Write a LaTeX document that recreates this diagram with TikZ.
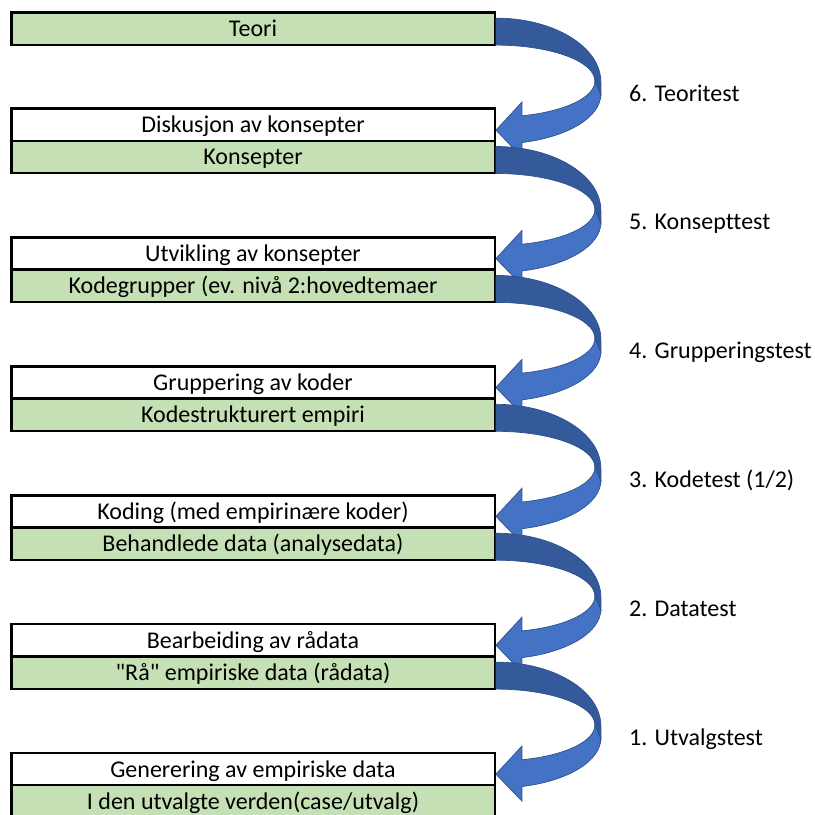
\documentclass[tikz,border=0pt]{standalone}
\usepackage{fontspec}
\setmainfont{Carlito}[Ligatures=NoCommon]
\definecolor{boxgreen}{RGB}{197,224,180}
\definecolor{arrowlight}{RGB}{68,114,196}
\definecolor{arrowdark}{RGB}{52,90,156}
\definecolor{arrowedge}{RGB}{47,82,143}
\tikzset{
  stepbox/.style={draw=black, line width=2.4pt, minimum width=483.4pt, minimum height=32.4pt, inner sep=0pt, text height=19pt, text depth=3pt, font=\fontsize{24}{28}\selectfont},
  greenbox/.style={stepbox, fill=boxgreen},
  whitebox/.style={stepbox, fill=white},
  testlabel/.style={anchor=base west, inner sep=0pt, font=\fontsize{24}{28}\selectfont},
  frontband/.style={fill=arrowlight, draw=arrowedge, line width=0.7pt},
  backband/.style={fill=arrowdark, draw=arrowedge, line width=0.7pt}
}
\begin{document}
\begin{tikzpicture}[x=1pt,y=1pt]
\clip (0,0) rectangle (815,-815);
\node[greenbox] (teori) at (253,-28.5) {Teori};
\node[whitebox] (disk) at (253,-124.8) {Diskusjon av konsepter};
\node[greenbox] (kons) at (253,-156.9) {Konsepter};
\node[whitebox] (utv) at (253,-253.7) {Utvikling av konsepter};
\node[greenbox] (kodegr) at (253,-285.8) {Kodegrupper (ev. nivå 2:hovedtemaer};
\node[whitebox] (grupp) at (253,-382.6) {Gruppering av koder};
\node[greenbox] (kodestr) at (253,-414.7) {Kodestrukturert empiri};
\node[whitebox] (koding) at (253,-511.5) {Koding (med empirinære koder)};
\node[greenbox] (behand) at (253,-543.6) {Behandlede data (analysedata)};
\node[whitebox] (bearb) at (253,-640.4) {Bearbeiding av rådata};
\node[greenbox] (raa) at (253,-672.5) {\textquotedbl Rå\textquotedbl{} empiriske data (rådata)};
\node[whitebox] (gener) at (253,-769.3) {Generering av empiriske data};
\node[greenbox] (iden) at (253,-801.4) {I den utvalgte verden(case/utvalg)};
\foreach \src in {teori,kons,kodegr,kodestr,behand,raa}{
  \begin{scope}[shift={(\src.north east)}]
    \path[frontband] (99,-70) -- (105,-83) arc[start angle=0, end angle=-75.66, x radius=105, y radius=50]
      -- (26,-146) -- (0,-119) -- (26,-91) -- (26,-104.7)
      arc[start angle=-74.77, end angle=0, x radius=99, y radius=36] -- cycle;
    \path[backband] (0,-7) arc[start angle=90, end angle=0, x radius=105, y radius=64]
      -- (105,-84) -- (99,-70) arc[start angle=0, end angle=90, x radius=99, y radius=36] -- cycle;
  \end{scope}
}
\node[testlabel] (t6) at (629,-101) {6. Teoritest};
\node[testlabel] (t5) at (629,-229.4) {5. Konsepttest};
\node[testlabel] (t4) at (629,-358.3) {4. Grupperingstest};
\node[testlabel] (t3) at (629,-487.2) {3. Kodetest (1/2)};
\node[testlabel] (t2) at (629,-616.1) {2. Datatest};
\node[testlabel] (t1) at (629,-745) {1. Utvalgstest};
\end{tikzpicture}
\end{document}
